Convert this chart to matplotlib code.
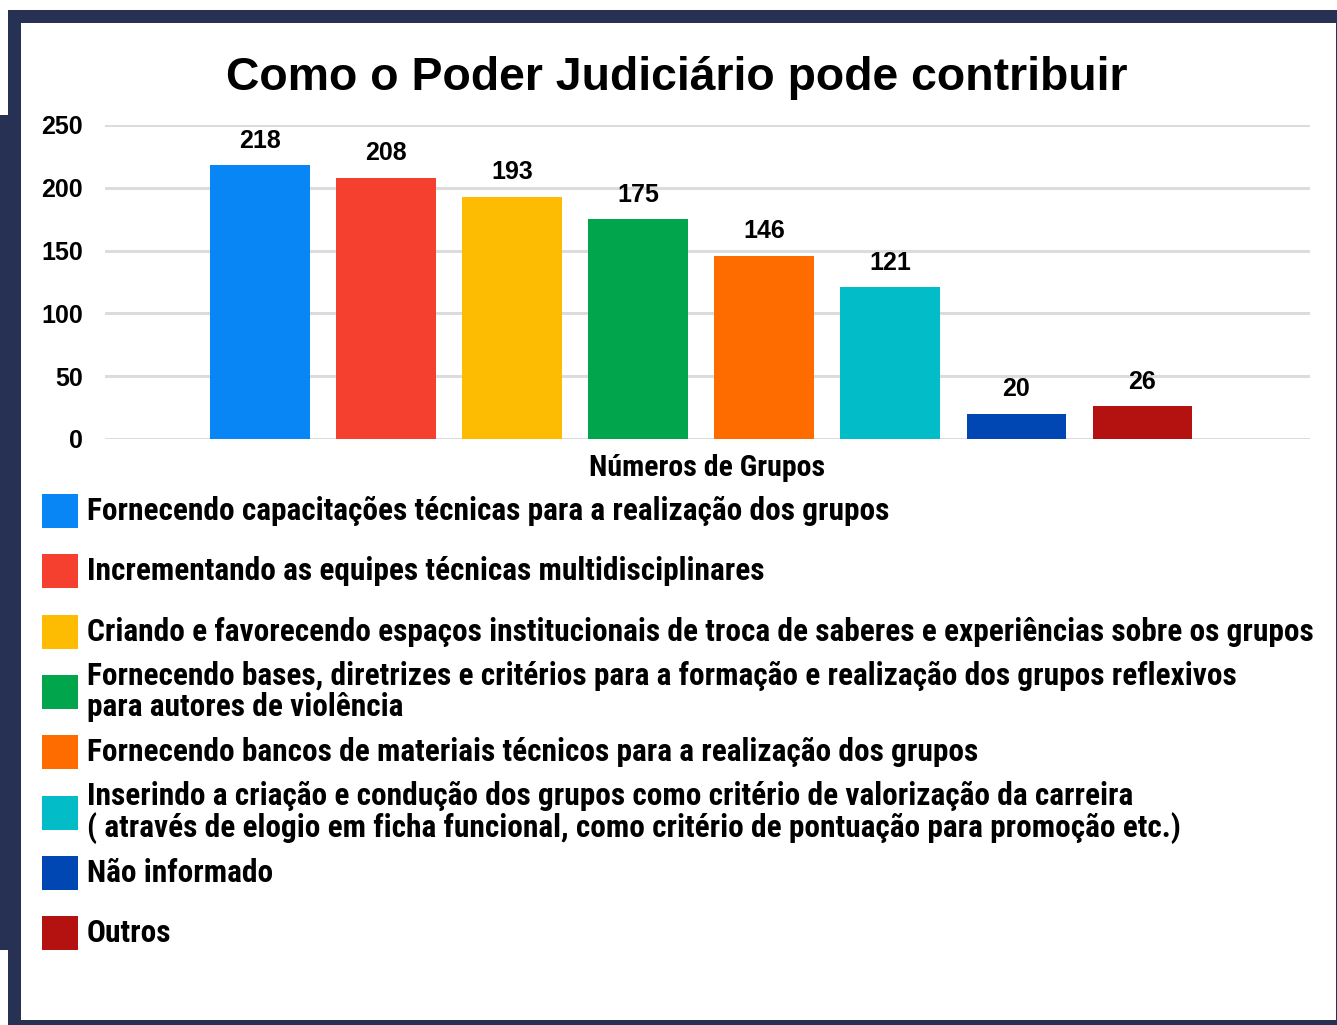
import matplotlib
matplotlib.use("Agg")
import matplotlib.pyplot as plt
from matplotlib.patches import Rectangle

# data
categories = [
    "Fornecendo capacitações técnicas para a realização dos grupos",
    "Incrementando as equipes técnicas multidisciplinares",
    "Criando e favorecendo espaços institucionais de troca de saberes e experiências sobre os grupos",
    "Fornecendo bases, diretrizes e critérios para a formação e realização dos grupos reflexivos\npara autores de violência",
    "Fornecendo bancos de materiais técnicos para a realização dos grupos",
    "Inserindo a criação e condução dos grupos como critério de valorização da carreira\n( através de elogio em ficha funcional, como critério de pontuação para promoção etc.)",
    "Não informado",
    "Outros",
]
values = [218, 208, 193, 175, 146, 121, 20, 26]
colors = ["#0986f5", "#f53f2f", "#fdbb02", "#00a54c", "#fe6c00", "#02bcc8", "#0047b3", "#b31210"]
yticks = [0, 50, 100, 150, 200, 250]

W, H = 1337, 1025
NAVY = "#273153"
narrow = ["Liberation Sans Narrow", "Roboto Condensed", "Liberation Sans"]
plt.rcParams["font.family"] = ["Liberation Sans", "DejaVu Sans"]

fig = plt.figure(figsize=(W / 100, H / 100), dpi=100)
fig.patch.set_facecolor("white")


def px(x, y, w, h):
    # pixel box (top-left origin) -> figure fraction
    return (x / W, 1 - (y + h) / H, w / W, h / H)


# dark frame around the white panel
for box in [(8, 10, 1329, 1015), (0, 115, 21, 835)]:
    x0, y0, w, h = px(*box)
    fig.add_artist(Rectangle((x0, y0), w, h, transform=fig.transFigure,
                             facecolor=NAVY, edgecolor="none", zorder=0))
x0, y0, w, h = px(21, 23, 1315, 997)
fig.add_artist(Rectangle((x0, y0), w, h, transform=fig.transFigure,
                         facecolor="white", edgecolor="none", zorder=0))

ax = fig.add_axes(px(105, 125, 1205, 314))
ax.set_facecolor("none")
xs = list(range(len(values)))
bars = ax.bar(xs, values, width=0.79, color=colors, zorder=3)
ax.set_xlim(-1.23, 8.33)
ax.set_ylim(0, 250)
ax.set_yticks(yticks)
ax.set_xticks([])
ax.grid(axis="y", color="#dcdcdc", linewidth=2.2, zorder=0)
ax.tick_params(axis="y", length=0, pad=16, labelsize=18)
for t in ax.get_yticklabels():
    t.set_fontweight("bold")
for s in ax.spines.values():
    s.set_visible(False)

for xi, v in zip(xs, values):
    ax.annotate(str(v), (xi, v), xytext=(0, 9), textcoords="offset points",
                ha="center", va="bottom", fontsize=18, fontweight="bold")

ax.set_xlabel("Números de Grupos", fontsize=21.5, fontweight="bold",
              family=narrow, labelpad=11)

fig.text(0.506, 1 - 78 / H, "Como o Poder Judiciário pode contribuir",
         ha="center", va="center", fontsize=33.4, fontweight="bold")

# legend drawn as a column of swatches
for i, (lab, c) in enumerate(zip(categories, colors)):
    cy = 511 + i * 60.3
    x0, y0, w, h = px(42, cy - 17, 36, 34)
    fig.add_artist(Rectangle((x0, y0), w, h, transform=fig.transFigure,
                             facecolor=c, edgecolor="none"))
    fig.text(87 / W, 1 - cy / H, lab, ha="left", va="center", fontsize=22.6,
             fontweight="bold", family=narrow, linespacing=1.05)

fig.savefig("out.png", dpi=100, facecolor="white")
